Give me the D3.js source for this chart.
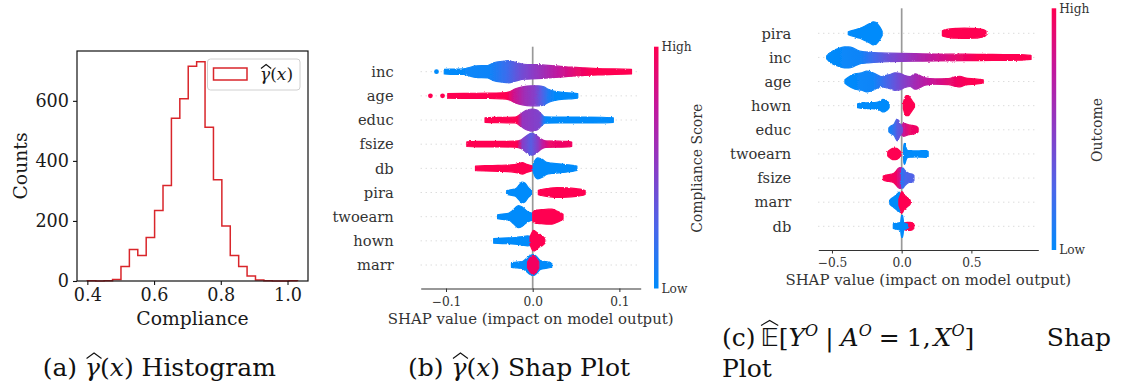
<!DOCTYPE html>
<html>
<head>
<meta charset="utf-8">
<script src="https://cdn.jsdelivr.net/npm/d3@7"></script>
<style>
  body { margin: 0; background: #fff; }
  svg { display: block; font-family: "DejaVu Serif", serif; }
</style>
</head>
<body>
<svg id="fig" width="1123" height="389"></svg>
<script>
// ---------- (a) histogram of estimated compliance ----------
const histStart = 0.40;
const histEnd = 1.03;
const histCounts = [1, 0, 1, 5, 48, 105, 85, 145, 235, 318, 542, 607, 715, 730, 512, 337, 183, 85, 48, 17, 3, 1, 0, 0, 1];
const histXTicks = [0.4, 0.6, 0.8, 1.0];
const histYTicks = [0, 200, 400, 600];

// ---------- SHAP beeswarms ----------
// Each feature row is a list of clusters.  tone: [shap value, feature value 0(low)..1(high)]
// shape: [shap value, relative point density 0..1]
const featuresB = ["inc", "age", "educ", "fsize", "db", "pira", "twoearn", "hown", "marr"];
const ticksB = [-0.1, 0.0, 0.1];
const swarmB = [
  [ // inc
    { tone: [[-0.102, 0], [-0.05, 0.05], [-0.03, 0.2], [-0.015, 0.38], [0, 0.5], [0.015, 0.62], [0.03, 0.75], [0.05, 0.9], [0.07, 1], [0.114, 1]],
      shape: [[-0.102, .2], [-0.095, .23], [-0.08, .24], [-0.072, .39], [-0.066, .5], [-0.052, .54], [-0.045, .78], [-0.035, .91], [-0.028, .97], [-0.02, .83], [-0.01, .65], [0.005, .61], [0.018, .55], [0.03, .48], [0.045, .39], [0.06, .33], [0.075, .28], [0.095, .24], [0.114, .2]] }
  ],
  [ // age
    { tone: [[-0.098, 1], [-0.03, 1], [-0.022, 0.8], [-0.01, 0.6], [0.002, 0.48], [0.01, 0.3], [0.018, 0.1], [0.025, 0.02], [0.052, 0]],
      shape: [[-0.098, .2], [-0.08, .22], [-0.05, .23], [-0.035, .26], [-0.027, .35], [-0.02, .61], [-0.012, .78], [-0.002, .87], [0.006, .87], [0.013, .78], [0.018, .57], [0.026, .39], [0.037, .28], [0.047, .24], [0.052, .19]] }
  ],
  [ // educ
    { tone: [[-0.055, 1], [-0.018, 1], [-0.012, 0.55], [0.008, 0.45], [0.013, 0.1], [0.016, 0], [0.093, 0]],
      shape: [[-0.055, .2], [-0.045, .23], [-0.03, .24], [-0.02, .26], [-0.014, .52], [-0.008, .83], [-0.001, .96], [0.005, .87], [0.01, .52], [0.014, .28], [0.03, .26], [0.06, .26], [0.08, .24], [0.093, .2]] }
  ],
  [ // fsize
    { tone: [[-0.076, 1], [-0.018, 1], [-0.012, 0.5], [-0.002, 0.3], [0.006, 0.5], [0.012, 0.75], [0.02, 0.92], [0.045, 0.95]],
      shape: [[-0.076, .2], [-0.065, .24], [-0.04, .24], [-0.02, .26], [-0.013, .39], [-0.007, .74], [-0.001, .96], [0.004, .78], [0.009, .48], [0.015, .28], [0.03, .26], [0.04, .24], [0.045, .19]] }
  ],
  [ // db
    { tone: [[-0.066, 1]],
      shape: [[-0.066, .19], [-0.055, .23], [-0.04, .26], [-0.025, .3], [-0.017, .39], [-0.012, .5], [-0.007, .35], [-0.002, .24], [0.001, .17]] },
    { tone: [[0, 0]],
      shape: [[0.0005, .26], [0.002, .61], [0.006, .91], [0.011, .78], [0.016, .52], [0.022, .45], [0.03, .39], [0.038, .33], [0.046, .26], [0.051, .19]] }
  ],
  [ // pira
    { tone: [[-0.03, 0]],
      shape: [[-0.03, .17], [-0.024, .26], [-0.02, .32], [-0.016, .61], [-0.0125, .91], [-0.009, .83], [-0.005, .43], [-0.0015, .19]] },
    { tone: [[0.0065, 1]],
      shape: [[0.0065, .19], [0.01, .26], [0.018, .35], [0.028, .43], [0.04, .4], [0.05, .33], [0.057, .26], [0.0605, .17]] }
  ],
  [ // twoearn
    { tone: [[-0.04, 0]],
      shape: [[-0.0405, .17], [-0.035, .23], [-0.028, .29], [-0.024, .48], [-0.02, .78], [-0.0165, .96], [-0.012, .83], [-0.008, .57], [-0.004, .39], [0, .3]] },
    { tone: [[0, 1]],
      shape: [[0, .35], [0.003, .57], [0.01, .61], [0.018, .65], [0.022, .65], [0.027, .52], [0.031, .39], [0.035, .22]] }
  ],
  [ // hown
    { tone: [[-0.045, 0]],
      shape: [[-0.045, .2], [-0.035, .24], [-0.02, .29], [-0.012, .37], [-0.006, .43], [-0.002, .39], [0, .26]] },
    { tone: [[-0.003, 1]],
      shape: [[-0.003, .35], [-0.001, .7], [0.001, .91], [0.004, .78], [0.008, .52], [0.011, .43], [0.014, .22]] }
  ],
  [ // marr
    { tone: [[-0.0245, 0]],
      shape: [[-0.0245, .2], [-0.018, .26], [-0.012, .3], [-0.008, .52], [-0.003, .83], [0.001, .91], [0.005, .7], [0.009, .39], [0.015, .3], [0.022, .2]] },
    { tone: [[-0.006, 0.95]],
      shape: [[-0.006, .26], [-0.003, .61], [0.0005, .83], [0.004, .61], [0.007, .26]] }
  ]
];
// isolated points: [feature, shap value, feature value]
const outliersB = [["inc", -0.111, 0], ["age", -0.118, 1], ["age", -0.104, 1]];

const featuresC = ["pira", "inc", "age", "hown", "educ", "twoearn", "fsize", "marr", "db"];
const ticksC = [-0.5, 0.0, 0.5];
const swarmC = [
  [ // pira
    { tone: [[-0.383, 0]],
      shape: [[-0.383, .13], [-0.35, .26], [-0.3, .43], [-0.26, .65], [-0.225, .87], [-0.205, 1], [-0.185, .96], [-0.168, .74], [-0.155, .52], [-0.145, .3], [-0.14, .17]] },
    { tone: [[0.292, 1]],
      shape: [[0.292, .22], [0.31, .3], [0.35, .39], [0.4, .43], [0.45, .45], [0.5, .43], [0.55, .39], [0.59, .3], [0.605, .2]] }
  ],
  [ // inc
    { tone: [[-0.54, 0], [-0.3, 0.05], [-0.2, 0.22], [-0.1, 0.38], [0, 0.5], [0.1, 0.62], [0.25, 0.78], [0.4, 0.9], [0.55, 1], [0.93, 1]],
      shape: [[-0.538, .13], [-0.52, .35], [-0.5, .52], [-0.47, .7], [-0.44, .83], [-0.41, .91], [-0.38, .91], [-0.35, .83], [-0.32, .65], [-0.29, .52], [-0.25, .48], [-0.2, .43], [-0.15, .39], [-0.08, .37], [0, .35], [0.1, .33], [0.25, .3], [0.45, .28], [0.65, .26], [0.85, .24], [0.928, .17]] }
  ],
  [ // age
    { tone: [[-0.41, 0], [-0.2, 0.05], [-0.12, 0.22], [-0.05, 0.35], [0, 0.45], [0.06, 0.55], [0.12, 0.65], [0.2, 0.75], [0.3, 0.85], [0.4, 0.95], [0.5, 1], [0.585, 1]],
      shape: [[-0.407, .15], [-0.383, .37], [-0.335, .67], [-0.287, .76], [-0.251, .9], [-0.215, .81], [-0.18, .61], [-0.144, .43], [-0.12, .52], [-0.084, .61], [-0.048, .76], [-0.012, .72], [0.024, .52], [0.06, .43], [0.096, .67], [0.132, .52], [0.167, .32], [0.239, .23], [0.334, .26], [0.394, .43], [0.418, .46], [0.454, .32], [0.526, .23], [0.585, .15]] }
  ],
  [ // hown
    { tone: [[-0.316, 0]],
      shape: [[-0.316, .17], [-0.28, .24], [-0.22, .26], [-0.18, .3], [-0.15, .43], [-0.135, .55], [-0.115, .48], [-0.1, .35], [-0.09, .17]] },
    { tone: [[0.012, 1]],
      shape: [[0.012, .26], [0.02, .61], [0.032, .87], [0.048, .87], [0.06, .7], [0.075, .43], [0.085, .26], [0.092, .13]] }
  ],
  [ // educ
    { tone: [[-0.01, 0.6], [0.02, 0.8], [0.06, 0.92], [0.118, 0.95]],
      shape: [[-0.01, .26], [0, .43], [0.015, .57], [0.03, .52], [0.05, .43], [0.07, .39], [0.09, .35], [0.105, .3], [0.118, .17]] },
    { tone: [[-0.092, 0.05], [-0.05, 0.2], [-0.03, 0.32], [0.005, 0.4]],
      shape: [[-0.092, .17], [-0.075, .35], [-0.055, .48], [-0.042, .78], [-0.032, .96], [-0.022, .78], [-0.012, .52], [-0.002, .35], [0.005, .17]] }
  ],
  [ // twoearn
    { tone: [[-0.1, 1]],
      shape: [[-0.1, .17], [-0.09, .3], [-0.075, .43], [-0.055, .5], [-0.035, .48], [-0.02, .35], [-0.01, .22], [-0.005, .13]] },
    { tone: [[0.013, 0]],
      shape: [[0.013, .35], [0.016, .78], [0.02, .91], [0.026, .78], [0.033, .48], [0.045, .3], [0.07, .28], [0.1, .26], [0.14, .28], [0.175, .3], [0.19, .22]] }
  ],
  [ // fsize
    { tone: [[-0.13, 1], [-0.04, 0.95], [-0.01, 0.75], [0.003, 0.6]],
      shape: [[-0.132, .17], [-0.115, .26], [-0.09, .3], [-0.06, .39], [-0.04, .61], [-0.025, .83], [-0.012, .91], [-0.003, .87], [0.003, .52]] },
    { tone: [[0, 0.15], [0.03, 0.25], [0.088, 0.28]],
      shape: [[-0.002, .35], [0.002, .87], [0.01, .87], [0.02, .7], [0.035, .52], [0.055, .39], [0.075, .35], [0.088, .22]] }
  ],
  [ // marr
    { tone: [[-0.085, 0]],
      shape: [[-0.085, .17], [-0.075, .3], [-0.06, .43], [-0.045, .57], [-0.03, .74], [-0.018, .87], [-0.006, .7], [0.003, .43], [0.01, .26]] },
    { tone: [[-0.02, 1]],
      shape: [[-0.02, .26], [-0.01, .61], [0, .91], [0.008, .87], [0.016, .65], [0.03, .52], [0.045, .35], [0.058, .22], [0.062, .13]] }
  ],
  [ // db
    { tone: [[0.008, 1]],
      shape: [[0.008, .22], [0.02, .3], [0.04, .35], [0.06, .35], [0.078, .3], [0.088, .17]] },
    { tone: [[-0.06, 0]],
      shape: [[-0.06, .19], [-0.04, .26], [-0.02, .3], [-0.008, .35], [-0.004, .7], [0, .96], [0.006, .96], [0.01, .7], [0.014, .35], [0.025, .26], [0.035, .22], [0.042, .17]] }
  ]
];
const outliersC = [];

// ---------- drawing ----------
const svg = d3.select("#fig");
const defs = svg.append("defs");
// blue -> violet -> magenta -> red, as in the SHAP red_blue map
const shapColor = d3.piecewise(d3.interpolateRgb, ["#008bfb", "#4a66ea", "#8a3cc6", "#c3169c", "#ff0051"]);
const fmt1 = d3.format(".1f");
let gradCount = 0;

// slightly grainy outline, like a swarm made of many small dots
const rough = defs.append("filter").attr("id", "rough").attr("x", "-5%").attr("y", "-40%").attr("width", "110%").attr("height", "180%");
rough.append("feTurbulence").attr("type", "fractalNoise").attr("baseFrequency", 0.45).attr("numOctaves", 2).attr("seed", 3).attr("result", "n");
rough.append("feDisplacementMap").attr("in", "SourceGraphic").attr("in2", "n").attr("scale", 2.2)
  .attr("xChannelSelector", "R").attr("yChannelSelector", "G");

// places a wide hat above a glyph box
function hatOver(g, x0, x1, yBase, h) {
  g.append("path")
    .attr("d", `M${x0},${yBase} L${(x0 + x1) / 2},${yBase - h} L${x1},${yBase}`)
    .attr("fill", "none").attr("stroke", "#111").attr("stroke-width", 1.1);
}

// ===== Panel (a) =====
(function () {
  const L = 77, R = 308, T = 51, B = 281;
  const x = d3.scaleLinear().domain([0.369, 1.0614]).range([L, R]);
  const y = d3.scaleLinear().domain([0, 766]).range([B, T]);
  const g = svg.append("g");
  const binW = (histEnd - histStart) / histCounts.length;
  const edges = d3.range(histCounts.length + 1).map(i => histStart + i * binW);
  const pts = [[edges[0], 0]];
  histCounts.forEach((c, i) => { pts.push([edges[i], c]); pts.push([edges[i + 1], c]); });
  pts.push([edges[edges.length - 1], 0]);
  g.append("path")
    .attr("d", d3.line().x(d => x(d[0])).y(d => y(d[1]))(pts))
    .attr("fill", "none").attr("stroke", "#d9262b").attr("stroke-width", 1.5);

  g.append("rect").attr("x", L).attr("y", T).attr("width", R - L).attr("height", B - T)
    .attr("fill", "none").attr("stroke", "#111").attr("stroke-width", 1.2);

  const xa = g.append("g").attr("transform", `translate(0,${B})`)
    .call(d3.axisBottom(x).tickValues(histXTicks).tickFormat(fmt1).tickSize(4).tickPadding(4).tickSizeOuter(0));
  const ya = g.append("g").attr("transform", `translate(${L},0)`)
    .call(d3.axisLeft(y).tickValues(histYTicks).tickSize(4).tickPadding(4).tickSizeOuter(0));
  [xa, ya].forEach(a => {
    a.select(".domain").remove();
    a.selectAll("line").attr("stroke", "#111").attr("stroke-width", 1.1);
    a.selectAll("text").attr("font-family", "DejaVu Serif").attr("font-size", 17.6).attr("fill", "#1a1a1a");
  });

  g.append("text").attr("x", (L + R) / 2).attr("y", 325).attr("text-anchor", "middle")
    .attr("font-size", 18.8).attr("fill", "#1a1a1a").text("Compliance");
  g.append("text").attr("transform", `translate(26.5,${(T + B) / 2}) rotate(-90)`).attr("text-anchor", "middle")
    .attr("font-size", 18.8).attr("fill", "#1a1a1a").text("Counts");

  // legend
  g.append("rect").attr("x", 207.5).attr("y", 59).attr("width", 92.5).attr("height", 31).attr("rx", 3)
    .attr("fill", "#fff").attr("fill-opacity", 0.8).attr("stroke", "#d0d0d0").attr("stroke-width", 1);
  g.append("rect").attr("x", 213.5).attr("y", 68).attr("width", 33.5).attr("height", 12)
    .attr("fill", "none").attr("stroke", "#d9262b").attr("stroke-width", 1.5);
  const lt = g.append("text").attr("x", 260).attr("y", 80).attr("font-size", 17).attr("fill", "#1a1a1a");
  lt.append("tspan").attr("font-style", "italic").text("γ");
  lt.append("tspan").text("(");
  lt.append("tspan").attr("font-style", "italic").text("x");
  lt.append("tspan").text(")");
  const e0 = lt.node().getExtentOfChar(0);
  hatOver(g, e0.x + 1, e0.x + e0.width + 1, 80 - 11.5, 4);
})();

// ===== Panels (b) and (c) =====
function paintFor(tone, x) {
  if (tone.length === 1) return shapColor(tone[0][1]);
  const x1 = x(tone[0][0]), x2 = x(tone[tone.length - 1][0]);
  const id = "tone" + (gradCount++);
  const lg = defs.append("linearGradient").attr("id", id).attr("gradientUnits", "userSpaceOnUse")
    .attr("x1", x1).attr("x2", x2).attr("y1", 0).attr("y2", 0);
  tone.forEach(s => lg.append("stop").attr("offset", (x(s[0]) - x1) / (x2 - x1)).attr("stop-color", shapColor(s[1])));
  return `url(#${id})`;
}

const barGrad = defs.append("linearGradient").attr("id", "bar").attr("x1", 0).attr("x2", 0).attr("y1", 1).attr("y2", 0);
d3.range(0, 1.0001, 0.05).forEach(t => barGrad.append("stop").attr("offset", t).attr("stop-color", shapColor(t)));

function swarmPanel(cfg) {
  const x = d3.scaleLinear().domain(cfg.domain).range(cfg.range);
  const y = d3.scalePoint().domain(cfg.features).range(cfg.rows);
  const r = d3.scaleLinear().domain([0, 1]).range([0, 11.5]);
  const g = svg.append("g");

  g.selectAll("line.guide").data(cfg.features).join("line").attr("class", "guide")
    .attr("x1", cfg.range[0]).attr("x2", cfg.range[1])
    .attr("y1", d => y(d)).attr("y2", d => y(d))
    .attr("stroke", "#cccccc").attr("stroke-width", 1).attr("stroke-dasharray", "1,4");

  g.append("line").attr("x1", x(0)).attr("x2", x(0)).attr("y1", cfg.top).attr("y2", cfg.axisY)
    .attr("stroke", "#999999").attr("stroke-width", 1.7);

  const marks = g.append("g").attr("filter", "url(#rough)");
  cfg.features.forEach((f, i) => {
    const cy = y(f);
    const area = d3.area().x(d => x(d[0])).y0(d => cy - r(d[1])).y1(d => cy + r(d[1])).curve(d3.curveMonotoneX);
    cfg.swarm[i].forEach(cl => {
      const paint = paintFor(cl.tone, x);
      marks.append("path").attr("d", area(cl.shape))
        .attr("fill", paint).attr("stroke", paint).attr("stroke-width", 1.2).attr("stroke-linejoin", "round");
    });
  });
  g.selectAll("circle.out").data(cfg.outliers).join("circle").attr("class", "out")
    .attr("cx", d => x(d[1])).attr("cy", d => y(d[0])).attr("r", 2.4).attr("fill", d => shapColor(d[2]));

  // feature names
  g.selectAll("text.feat").data(cfg.features).join("text").attr("class", "feat")
    .attr("x", cfg.range[0] - 27).attr("y", d => y(d)).attr("dy", "0.36em")
    .attr("text-anchor", "end").attr("font-size", 14.7).attr("fill", "#333").text(d => d);

  // x axis
  const xa = g.append("g").attr("transform", `translate(0,${cfg.axisY})`)
    .call(d3.axisBottom(x).tickValues(cfg.ticks).tickFormat(fmt1).tickSize(3.5).tickPadding(5).tickSizeOuter(0));
  xa.select(".domain").attr("stroke", "#333").attr("stroke-width", 1.2);
  xa.selectAll(".tick line").attr("stroke", "#333");
  xa.selectAll("text").attr("font-family", "DejaVu Serif").attr("font-size", 12.2).attr("fill", "#333");
  g.append("text").attr("x", (cfg.range[0] + cfg.range[1]) / 2).attr("y", cfg.axisY + 35)
    .attr("text-anchor", "middle").attr("font-size", 14.9).attr("fill", "#333")
    .text("SHAP value (impact on model output)");

  // colour bar
  g.append("rect").attr("x", cfg.barX).attr("y", cfg.top).attr("width", 4.5).attr("height", cfg.axisY - cfg.top)
    .attr("fill", "url(#bar)");
  g.append("text").attr("x", cfg.barX + 7.5).attr("y", cfg.top).attr("dy", "0.36em")
    .attr("font-size", 12.2).attr("fill", "#333").text("High");
  g.append("text").attr("x", cfg.barX + 7.5).attr("y", cfg.axisY).attr("dy", "0.36em")
    .attr("font-size", 12.2).attr("fill", "#333").text("Low");
  g.append("text").attr("transform", `translate(${cfg.barLabelX},${cfg.barLabelY}) rotate(-90)`)
    .attr("text-anchor", "middle").attr("font-size", 14).attr("fill", "#333").text(cfg.barLabel);
}

swarmPanel({
  features: featuresB, swarm: swarmB, outliers: outliersB, ticks: ticksB,
  domain: [-0.1292, 0.1246], range: [420.7, 640.7], rows: [71.7, 265],
  top: 46.7, axisY: 288.5, barX: 654, barLabel: "Compliance Score", barLabelX: 702, barLabelY: 168.3
});
swarmPanel({
  features: featuresC, swarm: swarmC, outliers: outliersC, ticks: ticksC,
  domain: [-0.598, 0.98], range: [818.3, 1038.3], rows: [33.3, 226.3],
  top: 8.3, axisY: 250, barX: 1051.7, barLabel: "Outcome", barLabelX: 1101.5, barLabelY: 130
});

// ===== captions =====
(function () {
  const g = svg.append("g").attr("fill", "#111");
  const fs = 25;
  function gammaCaption(x0, tag, tail) {
    const t = g.append("text").attr("x", x0).attr("y", 376).attr("font-size", fs);
    t.append("tspan").text(tag + " ");
    t.append("tspan").attr("font-style", "italic").text("γ");
    t.append("tspan").text("(");
    t.append("tspan").attr("font-style", "italic").text("x");
    t.append("tspan").text(") " + tail);
    const e = t.node().getExtentOfChar(tag.length + 1);
    hatOver(g, e.x + 1.5, e.x + e.width + 1.5, 376 - 17.5, 5.5);
  }
  gammaCaption(42.7, "(a)", "Histogram");
  gammaCaption(408, "(b)", "Shap Plot");

  // first line of caption (c), laid out token by token
  const yb = 346;
  let cursor = 722;
  const put = (s, gapBefore, opt = {}) => {
    cursor += gapBefore;
    const t = g.append("text").attr("x", cursor).attr("y", yb + (opt.dy || 0)).attr("font-size", opt.size || fs).text(s);
    if (opt.italic) t.attr("font-style", "italic");
    if (opt.family) t.attr("font-family", opt.family);
    cursor += t.node().getComputedTextLength();
    return t;
  };
  put("(c)", 0);
  const E = put("𝔼", 5, { family: "DejaVu Sans" });
  const eb = E.node().getBBox();
  hatOver(g, eb.x + 0.5, eb.x + eb.width - 0.5, yb - 20.5, 5);
  put("[", 0);
  put("Y", 0, { italic: true });
  put("O", 0, { italic: true, size: 16, dy: -10 });
  put("|", 7);
  put("A", 7, { italic: true });
  put("O", 0, { italic: true, size: 16, dy: -10 });
  put("=", 7);
  put("1,", 7);
  put("X", 3, { italic: true });
  put("O", 0, { italic: true, size: 16, dy: -10 });
  put("]", 0);
  g.append("text").attr("x", 1111).attr("y", yb).attr("font-size", fs).attr("text-anchor", "end").text("Shap");
  g.append("text").attr("x", 722).attr("y", 377).attr("font-size", fs).text("Plot");
})();
</script>
</body>
</html>
